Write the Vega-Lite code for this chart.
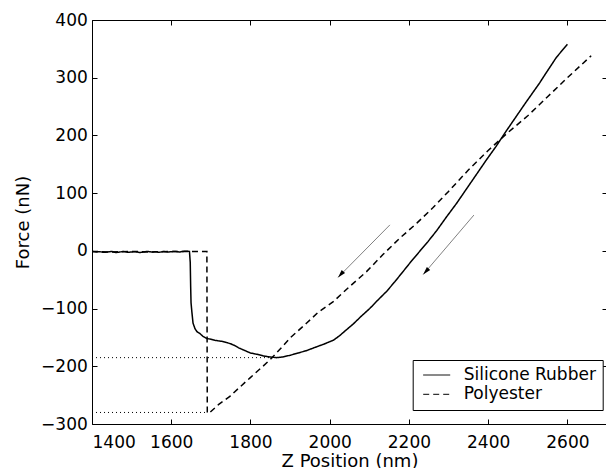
{
  "$schema": "https://vega.github.io/schema/vega-lite/v6.json",
  "width": 515,
  "height": 404,
  "autosize": "none",
  "padding": {"left": 92, "top": 20, "right": 0, "bottom": 44},
  "background": "white",
  "config": {
    "font": "DejaVu Sans",
    "view": {"stroke": "black", "strokeWidth": 1},
    "axis": {
      "grid": false, "domain": false, "tickColor": "black", "tickSize": -5, "tickWidth": 1,
      "labelColor": "black", "labelFont": "DejaVu Sans", "labelFontSize": 17,
      "titleFont": "DejaVu Sans", "titleFontSize": 18, "titleFontWeight": "normal", "titleColor": "black"
    }
  },
  "datasets": {
    "curves": [
      {"series": "Silicone Rubber", "z": 1400, "force": -1},
      {"series": "Silicone Rubber", "z": 1410, "force": -2},
      {"series": "Silicone Rubber", "z": 1420, "force": -1.5},
      {"series": "Silicone Rubber", "z": 1430, "force": -2.5},
      {"series": "Silicone Rubber", "z": 1440, "force": -2},
      {"series": "Silicone Rubber", "z": 1450, "force": -1},
      {"series": "Silicone Rubber", "z": 1460, "force": -3},
      {"series": "Silicone Rubber", "z": 1470, "force": -2},
      {"series": "Silicone Rubber", "z": 1480, "force": -1},
      {"series": "Silicone Rubber", "z": 1490, "force": -2.5},
      {"series": "Silicone Rubber", "z": 1500, "force": -2},
      {"series": "Silicone Rubber", "z": 1510, "force": -1.5},
      {"series": "Silicone Rubber", "z": 1520, "force": -3},
      {"series": "Silicone Rubber", "z": 1530, "force": -2},
      {"series": "Silicone Rubber", "z": 1540, "force": -1},
      {"series": "Silicone Rubber", "z": 1550, "force": -2},
      {"series": "Silicone Rubber", "z": 1560, "force": -1.5},
      {"series": "Silicone Rubber", "z": 1570, "force": -2.5},
      {"series": "Silicone Rubber", "z": 1580, "force": -1},
      {"series": "Silicone Rubber", "z": 1590, "force": -2},
      {"series": "Silicone Rubber", "z": 1600, "force": -1.5},
      {"series": "Silicone Rubber", "z": 1610, "force": -1},
      {"series": "Silicone Rubber", "z": 1620, "force": -2},
      {"series": "Silicone Rubber", "z": 1630, "force": -1},
      {"series": "Silicone Rubber", "z": 1640, "force": -0.5},
      {"series": "Silicone Rubber", "z": 1646, "force": -1},
      {"series": "Silicone Rubber", "z": 1648, "force": -20},
      {"series": "Silicone Rubber", "z": 1649, "force": -60},
      {"series": "Silicone Rubber", "z": 1650, "force": -90},
      {"series": "Silicone Rubber", "z": 1652, "force": -105},
      {"series": "Silicone Rubber", "z": 1655, "force": -125},
      {"series": "Silicone Rubber", "z": 1660, "force": -135},
      {"series": "Silicone Rubber", "z": 1665, "force": -140},
      {"series": "Silicone Rubber", "z": 1672, "force": -143},
      {"series": "Silicone Rubber", "z": 1680, "force": -148},
      {"series": "Silicone Rubber", "z": 1690, "force": -152},
      {"series": "Silicone Rubber", "z": 1700, "force": -153},
      {"series": "Silicone Rubber", "z": 1710, "force": -155},
      {"series": "Silicone Rubber", "z": 1720, "force": -156},
      {"series": "Silicone Rubber", "z": 1730, "force": -157},
      {"series": "Silicone Rubber", "z": 1740, "force": -159},
      {"series": "Silicone Rubber", "z": 1750, "force": -161},
      {"series": "Silicone Rubber", "z": 1760, "force": -164},
      {"series": "Silicone Rubber", "z": 1770, "force": -168},
      {"series": "Silicone Rubber", "z": 1780, "force": -171},
      {"series": "Silicone Rubber", "z": 1790, "force": -174},
      {"series": "Silicone Rubber", "z": 1800, "force": -177},
      {"series": "Silicone Rubber", "z": 1815, "force": -179},
      {"series": "Silicone Rubber", "z": 1832, "force": -182},
      {"series": "Silicone Rubber", "z": 1850, "force": -184},
      {"series": "Silicone Rubber", "z": 1866, "force": -185},
      {"series": "Silicone Rubber", "z": 1880, "force": -184},
      {"series": "Silicone Rubber", "z": 1900, "force": -181},
      {"series": "Silicone Rubber", "z": 1920, "force": -177},
      {"series": "Silicone Rubber", "z": 1941, "force": -173},
      {"series": "Silicone Rubber", "z": 1960, "force": -168},
      {"series": "Silicone Rubber", "z": 1984, "force": -162},
      {"series": "Silicone Rubber", "z": 2009, "force": -155},
      {"series": "Silicone Rubber", "z": 2025, "force": -147},
      {"series": "Silicone Rubber", "z": 2040, "force": -138},
      {"series": "Silicone Rubber", "z": 2059, "force": -127},
      {"series": "Silicone Rubber", "z": 2080, "force": -113},
      {"series": "Silicone Rubber", "z": 2101, "force": -100},
      {"series": "Silicone Rubber", "z": 2122, "force": -85},
      {"series": "Silicone Rubber", "z": 2144, "force": -70},
      {"series": "Silicone Rubber", "z": 2165, "force": -53},
      {"series": "Silicone Rubber", "z": 2185, "force": -36},
      {"series": "Silicone Rubber", "z": 2206, "force": -18},
      {"series": "Silicone Rubber", "z": 2227, "force": -1},
      {"series": "Silicone Rubber", "z": 2248, "force": 16},
      {"series": "Silicone Rubber", "z": 2270, "force": 35},
      {"series": "Silicone Rubber", "z": 2295, "force": 59},
      {"series": "Silicone Rubber", "z": 2320, "force": 82},
      {"series": "Silicone Rubber", "z": 2345, "force": 107},
      {"series": "Silicone Rubber", "z": 2370, "force": 132},
      {"series": "Silicone Rubber", "z": 2395, "force": 157},
      {"series": "Silicone Rubber", "z": 2420, "force": 181},
      {"series": "Silicone Rubber", "z": 2445, "force": 207},
      {"series": "Silicone Rubber", "z": 2470, "force": 232},
      {"series": "Silicone Rubber", "z": 2495, "force": 257},
      {"series": "Silicone Rubber", "z": 2530, "force": 291},
      {"series": "Silicone Rubber", "z": 2545, "force": 307},
      {"series": "Silicone Rubber", "z": 2572, "force": 335},
      {"series": "Silicone Rubber", "z": 2600, "force": 358},
      {"series": "Polyester", "z": 1400, "force": -1},
      {"series": "Polyester", "z": 1450, "force": -2},
      {"series": "Polyester", "z": 1500, "force": -1},
      {"series": "Polyester", "z": 1550, "force": -2},
      {"series": "Polyester", "z": 1600, "force": -1},
      {"series": "Polyester", "z": 1650, "force": -1},
      {"series": "Polyester", "z": 1690, "force": -1},
      {"series": "Polyester", "z": 1691, "force": -281},
      {"series": "Polyester", "z": 1696, "force": -281},
      {"series": "Polyester", "z": 1720, "force": -266},
      {"series": "Polyester", "z": 1748, "force": -252},
      {"series": "Polyester", "z": 1775, "force": -235},
      {"series": "Polyester", "z": 1799, "force": -220},
      {"series": "Polyester", "z": 1825, "force": -204},
      {"series": "Polyester", "z": 1849, "force": -189},
      {"series": "Polyester", "z": 1875, "force": -170},
      {"series": "Polyester", "z": 1900, "force": -151},
      {"series": "Polyester", "z": 1942, "force": -125},
      {"series": "Polyester", "z": 1970, "force": -107},
      {"series": "Polyester", "z": 2009, "force": -88},
      {"series": "Polyester", "z": 2050, "force": -62},
      {"series": "Polyester", "z": 2093, "force": -36},
      {"series": "Polyester", "z": 2135, "force": -6},
      {"series": "Polyester", "z": 2177, "force": 22},
      {"series": "Polyester", "z": 2220, "force": 48},
      {"series": "Polyester", "z": 2261, "force": 75},
      {"series": "Polyester", "z": 2300, "force": 103},
      {"series": "Polyester", "z": 2350, "force": 140},
      {"series": "Polyester", "z": 2400, "force": 174},
      {"series": "Polyester", "z": 2450, "force": 205},
      {"series": "Polyester", "z": 2500, "force": 234},
      {"series": "Polyester", "z": 2550, "force": 267},
      {"series": "Polyester", "z": 2600, "force": 300},
      {"series": "Polyester", "z": 2660, "force": 338}
    ],
    "guides": [
      {"x0": 1400, "x1": 1866, "level": -185},
      {"x0": 1400, "x1": 1691, "level": -280}
    ],
    "arrows": [
      {"xs": 2152, "ys": 45, "xe": 2021, "ye": -46},
      {"xs": 2364, "ys": 62, "xe": 2236, "ye": -41}
    ]
  },
  "resolve": {"axis": {"x": "independent", "y": "independent"}},
  "layer": [
    {
      "data": {"name": "curves"},
      "mark": {"type": "line", "strokeWidth": 1.5},
      "encoding": {
        "x": {
          "field": "z", "type": "quantitative",
          "scale": {"domain": [1400, 2700], "nice": false, "zero": false},
          "axis": {"orient": "bottom", "values": [1400, 1600, 1800, 2000, 2200, 2400, 2600], "format": "d", "title": "Z Position (nm)", "labelPadding": 15.7, "titleY": 42.4, "titleBaseline": "alphabetic"}
        },
        "y": {
          "field": "force", "type": "quantitative",
          "scale": {"domain": [-300, 400], "nice": false, "zero": false},
          "axis": {"orient": "left", "values": [-300, -200, -100, 0, 100, 200, 300, 400], "format": "d", "title": "Force (nN)", "labelPadding": 9.7, "titleX": -64, "titleBaseline": "alphabetic"}
        },
        "color": {
          "field": "series", "type": "nominal",
          "scale": {"domain": ["Silicone Rubber", "Polyester"], "range": ["black", "black"]},
          "legend": {"title": null, "orient": "none", "legendX": 320.7, "legendY": 340, "strokeColor": "black", "fillColor": "white", "padding": 6.5, "symbolType": "stroke", "symbolSize": 729, "symbolStrokeWidth": 1, "symbolOffset": 3.5, "labelOffset": 13, "labelFontSize": 17, "labelFont": "DejaVu Sans", "labelColor": "black", "rowPadding": 1.3, "clipHeight": 17, "cornerRadius": 0}
        },
        "strokeDash": {
          "field": "series", "type": "nominal",
          "scale": {"domain": ["Silicone Rubber", "Polyester"], "range": [[1, 0], [6, 4]]},
          "legend": {"title": null, "orient": "none", "legendX": 320.7, "legendY": 340, "strokeColor": "black", "fillColor": "white", "padding": 6.5, "symbolType": "stroke", "symbolSize": 729, "symbolStrokeWidth": 1, "symbolOffset": 3.5, "labelOffset": 13, "labelFontSize": 17, "labelFont": "DejaVu Sans", "labelColor": "black", "rowPadding": 1.3, "clipHeight": 17, "cornerRadius": 0}
        }
      }
    },
    {
      "data": {"name": "guides"},
      "mark": {"type": "rule", "color": "black", "strokeWidth": 1, "strokeDash": [1, 3]},
      "encoding": {
        "x": {
          "field": "x0", "type": "quantitative",
          "scale": {"domain": [1400, 2700], "nice": false, "zero": false},
          "axis": {"orient": "top", "values": [1400, 1600, 1800, 2000, 2200, 2400, 2600], "labels": false, "title": null}
        },
        "x2": {"field": "x1"},
        "y": {
          "field": "level", "type": "quantitative",
          "scale": {"domain": [-300, 400], "nice": false, "zero": false},
          "axis": {"orient": "right", "values": [-300, -200, -100, 0, 100, 200, 300, 400], "labels": false, "title": null}
        }
      }
    },
    {
      "data": {"name": "arrows"},
      "mark": {"type": "rule", "color": "#808080", "strokeWidth": 1},
      "encoding": {
        "x": {"field": "xs", "type": "quantitative", "scale": {"domain": [1400, 2700], "nice": false, "zero": false}, "axis": null},
        "y": {"field": "ys", "type": "quantitative", "scale": {"domain": [-300, 400], "nice": false, "zero": false}, "axis": null},
        "x2": {"field": "xe"},
        "y2": {"field": "ye"}
      }
    },
    {
      "data": {"name": "arrows"},
      "mark": {"type": "point", "shape": "M0,0L-0.45,1.6L0.45,1.6Z", "filled": true, "color": "black", "opacity": 1, "size": 100, "angle": 222},
      "encoding": {
        "x": {"field": "xe", "type": "quantitative", "scale": {"domain": [1400, 2700], "nice": false, "zero": false}, "axis": null},
        "y": {"field": "ye", "type": "quantitative", "scale": {"domain": [-300, 400], "nice": false, "zero": false}, "axis": null}
      }
    }
  ]
}
